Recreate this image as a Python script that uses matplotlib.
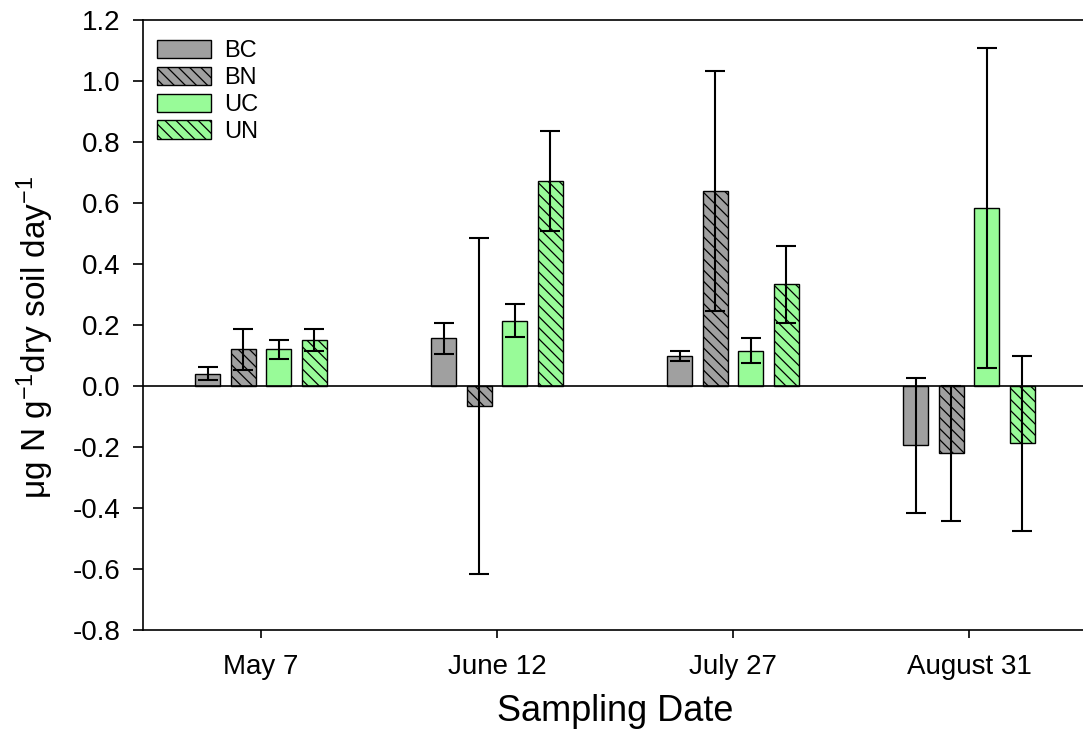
import numpy as np
import matplotlib
matplotlib.use("Agg")
import matplotlib.pyplot as plt
from matplotlib.ticker import FuncFormatter

plt.rcParams['font.family'] = ['Liberation Sans', 'DejaVu Sans']
plt.rcParams['mathtext.fontset'] = 'custom'
plt.rcParams['mathtext.rm'] = 'Liberation Sans'
plt.rcParams['mathtext.it'] = 'Liberation Sans:italic'
plt.rcParams['axes.unicode_minus'] = False
plt.rcParams['hatch.linewidth'] = 0.9

dates = ["May 7", "June 12", "July 27", "August 31"]
treatments = ["BC", "BN", "UC", "UN"]

bc = [0.041, 0.156, 0.098, -0.195]
bc_err = [0.022, 0.050, 0.017, 0.220]
bn = [0.120, -0.066, 0.640, -0.221]
bn_err = [0.068, 0.550, 0.393, 0.222]
uc = [0.120, 0.214, 0.116, 0.583]
uc_err = [0.030, 0.054, 0.042, 0.525]
un = [0.150, 0.672, 0.333, -0.188]
un_err = [0.036, 0.164, 0.125, 0.286]

gray = "#a0a0a0"
green = "#98fb98"
fills = [gray, gray, green, green]
hatches = [None, "\\\\\\", None, "\\\\\\"]

fig = plt.figure(figsize=(10.83, 7.47), dpi=100)
ax = fig.add_axes([0.132, 0.1566, 0.8717, 0.8166])

x = np.arange(len(dates))
width = 0.106
step = 0.15
series = [(bc, bc_err), (bn, bn_err), (uc, uc_err), (un, un_err)]

for i, (vals, errs) in enumerate(series):
    pos = x + (i - 1.5) * step
    ax.bar(pos, vals, width, color=fills[i], edgecolor="black", linewidth=1.0,
           hatch=hatches[i], label=treatments[i], zorder=2)
    ax.errorbar(pos, vals, yerr=errs, fmt="none", ecolor="black",
                elinewidth=1.5, capsize=7, capthick=1.5, zorder=3)

ax.axhline(0, color="black", linewidth=1.2, zorder=4)

ax.set_xlim(-0.5, 3.5)
ax.set_ylim(-0.8, 1.2)
ax.set_yticks(np.round(np.arange(-0.8, 1.21, 0.2), 1))
ax.yaxis.set_major_formatter(FuncFormatter(lambda v, p: "%.1f" % v if abs(v) > 1e-9 else "0.0"))
ax.set_xticks(x)
ax.set_xticklabels(dates)

for s in ax.spines.values():
    s.set_linewidth(1.2)
ax.spines['right'].set_visible(False)

ax.tick_params(axis='y', direction='out', length=7, width=1.2, pad=9, labelsize=20)
ax.tick_params(axis='x', direction='out', length=6, width=1.2, pad=11, labelsize=20)

ax.set_xlabel("Sampling Date", fontsize=26, labelpad=10)
ax.set_ylabel("μg N g$^{-1}$dry soil day$^{-1}$", fontsize=24)
ax.yaxis.set_label_coords(-0.092, 0.48)

ax.legend(loc="upper left", bbox_to_anchor=(-0.003, 0.995), frameon=False,
          fontsize=17, handlelength=2.3, handleheight=0.8,
          handletextpad=0.55, labelspacing=0.2, borderaxespad=0.3)

fig.savefig("out.png", dpi=100)
